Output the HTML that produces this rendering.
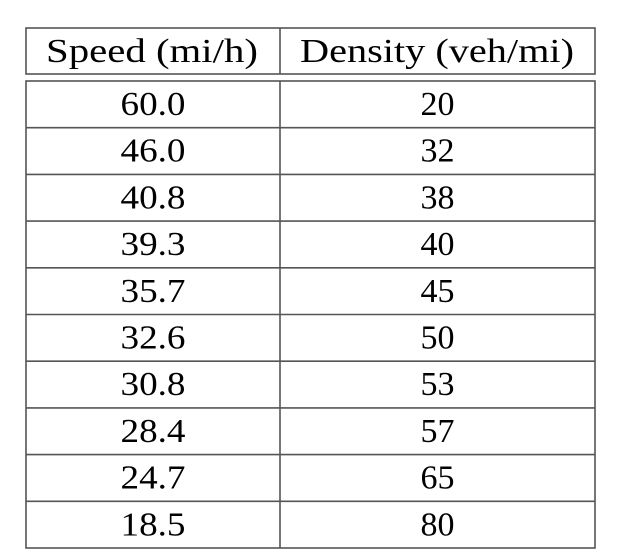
<!DOCTYPE html>
<html><head><meta charset="utf-8"><style>
html,body{margin:0;padding:0;background:#fff;width:634px;height:560px;overflow:hidden}
svg text{font-family:"Liberation Serif",serif;fill:#000}
</style></head><body>
<svg id="tbl" width="634" height="560" viewBox="0 0 634 560">
<g stroke="#555" stroke-width="1.6" fill="none">
<rect x="26" y="28" width="569" height="46"/>
<line x1="280" y1="28" x2="280" y2="74"/>
</g>
<text x="152" y="62" font-size="34" text-anchor="middle" textLength="212" lengthAdjust="spacingAndGlyphs">Speed (mi/h)</text>
<text x="437" y="62" font-size="34" text-anchor="middle" textLength="274" lengthAdjust="spacingAndGlyphs">Density (veh/mi)</text>
<g id="body"></g>
</svg>
<script>
const speeds=["60.0","46.0","40.8","39.3","35.7","32.6","30.8","28.4","24.7","18.5"];
const densities=["20","32","38","40","45","50","53","57","65","80"];
const NS="http://www.w3.org/2000/svg";
const g=document.getElementById('body');
const top0=81,rh=46.7,L=26,R=595,M=280;
function mk(tag,attrs){const e=document.createElementNS(NS,tag);for(const k in attrs)e.setAttribute(k,attrs[k]);g.appendChild(e);return e;}
const n=speeds.length;
const frame=mk('rect',{x:L,y:top0,width:R-L,height:rh*n,fill:'none',stroke:'#555','stroke-width':1.6});


const div=mk('line',{x1:M,y1:top0,x2:M,y2:top0+rh*n,stroke:'#555','stroke-width':1.6});


for(let i=0;i<n;i++){
  const y=top0+rh*i;
  if(i>0){const l=mk('line',{x1:L,y1:y,x2:R,y2:y,stroke:'#555','stroke-width':1.6});
    
    }
  const t1=mk('text',{x:(L+M)/2,y:y+34,'font-size':34,'text-anchor':'middle',textLength:65,lengthAdjust:'spacingAndGlyphs'});
  t1.textContent=speeds[i];
  
  
  const t2=mk('text',{x:(M+R)/2,y:y+34,'font-size':34,'text-anchor':'middle'});
  t2.textContent=densities[i];
  
  
}
</script>
</body></html>
